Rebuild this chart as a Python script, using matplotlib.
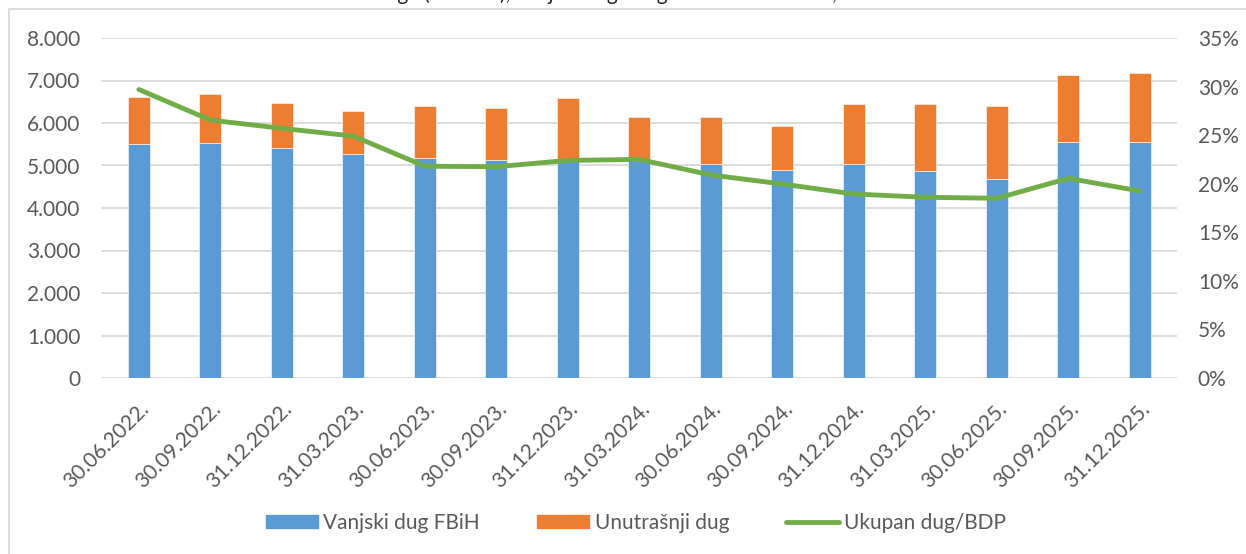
import matplotlib
matplotlib.use('Agg')
import matplotlib.pyplot as plt
from matplotlib.patches import Rectangle, Patch
from matplotlib.lines import Line2D
from matplotlib.ticker import FuncFormatter, MultipleLocator
import numpy as np

dates = ['30.06.2022.', '30.09.2022.', '31.12.2022.', '31.03.2023.', '30.06.2023.',
         '30.09.2023.', '31.12.2023.', '31.03.2024.', '30.06.2024.', '30.09.2024.',
         '31.12.2024.', '31.03.2025.', '30.06.2025.', '30.09.2025.', '31.12.2025.']
vanjski = [5500, 5540, 5406, 5273, 5188, 5141, 5110, 5110, 5038, 4883,
           5038, 4866, 4671, 5547, 5563]
ukupno = [6603, 6674, 6470, 6275, 6392, 6361, 6580, 6130, 6134, 5923,
          6455, 6439, 6408, 7120, 7174]
dug_bdp = [29.7, 26.55, 25.7, 24.9, 21.8, 21.75, 22.4, 22.5, 20.9, 19.97,
           18.94, 18.6, 18.5, 20.55, 19.25]
unutrasnji = [u - v for u, v in zip(ukupno, vanjski)]

BLUE = '#5b9bd5'
ORANGE = '#ed7d31'
GREEN = '#70ad47'
GRID = '#d9d9d9'
TXT = '#595959'

plt.rcParams['font.family'] = ['Lato', 'DejaVu Sans']

W, H = 1246, 554
fig = plt.figure(figsize=(W / 100, H / 100), dpi=100)
ax = fig.add_axes([101 / W, 176 / H, 1076 / W, 340 / H])

x = np.arange(len(dates))
ax.bar(x, vanjski, width=0.31, color=BLUE, edgecolor='white', linewidth=0.4, zorder=2)
ax.bar(x, unutrasnji, width=0.31, bottom=vanjski, color=ORANGE, edgecolor='white',
       linewidth=0.4, zorder=2)

ax.set_xlim(-0.53, len(dates) - 0.48)
ax.set_ylim(0, 8000)
ax.yaxis.set_major_locator(MultipleLocator(1000))
ax.yaxis.set_major_formatter(FuncFormatter(lambda v, p: f"{int(v):,}".replace(',', '.')))
ax.grid(axis='y', color=GRID, linewidth=1.3, zorder=0)
ax.set_axisbelow(True)
for s in ax.spines.values():
    s.set_visible(False)
ax.tick_params(axis='both', length=0, labelsize=15, labelcolor=TXT)
ax.tick_params(axis='y', pad=15)
ax.set_xticks(x)
ax.set_xticklabels(dates, rotation=45, ha='right', rotation_mode='anchor')
ax.tick_params(axis='x', pad=15)

ax2 = ax.twinx()
ax2.plot(x, dug_bdp, color=GREEN, linewidth=3.5, solid_capstyle='round', zorder=3)
ax2.set_ylim(0, 35)
ax2.yaxis.set_major_locator(MultipleLocator(5))
ax2.yaxis.set_major_formatter(FuncFormatter(lambda v, p: f"{int(v)}%"))
for s in ax2.spines.values():
    s.set_visible(False)
ax2.tick_params(axis='y', length=0, labelsize=15, labelcolor=TXT, pad=15)

handles = [Patch(color=BLUE), Patch(color=ORANGE),
           Line2D([0], [0], color=GREEN, linewidth=3.5, solid_capstyle='round')]
labels = ['Vanjski dug FBiH', 'Unutrašnji dug', 'Ukupan dug/BDP']
fig.legend(handles, labels, loc='center', bbox_to_anchor=(636 / W, 1 - 523 / H),
           ncol=3, frameon=False, fontsize=15, labelcolor=TXT,
           handlelength=2.5, handleheight=0.6, handletextpad=0.25, columnspacing=2.75)

# chart border (only top and left edges fall inside the image)
fig.add_artist(Rectangle((9 / W, -0.1), 1.2, 1.1 - 9 / H, transform=fig.transFigure,
                         fill=False, edgecolor=GRID, linewidth=1.3))

# title sits above the visible area, only its lower part shows (as in the source)
fig.text(590 / W, 1.0, 'Iznos duga (mil. KM), vanjski dug i dug u odnosu na BDP, %',
         ha='center', va='baseline', fontsize=15, color='#262626')

fig.savefig('out.png', dpi=100, facecolor='white')
